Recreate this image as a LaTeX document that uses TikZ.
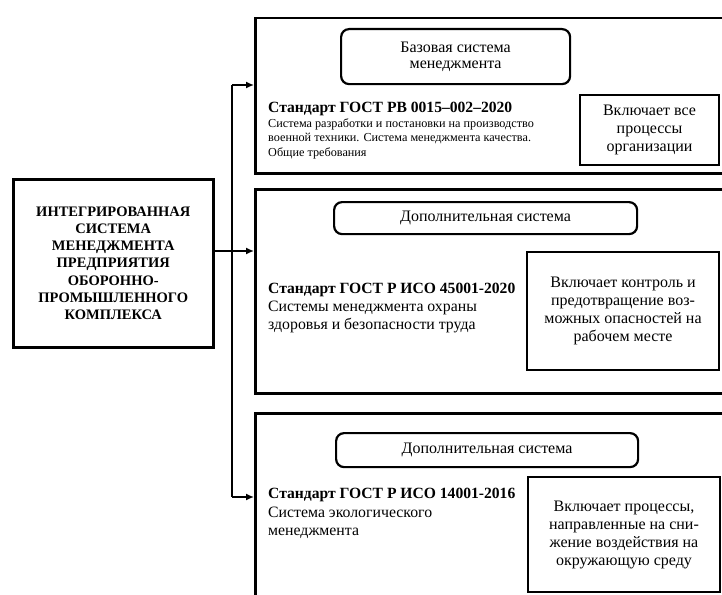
\documentclass[tikz,border=0pt]{standalone}
\usepackage{fontspec}
\setmainfont{Liberation Serif}
\usetikzlibrary{arrows.meta}

\begin{document}
\begin{tikzpicture}[x=1pt, y=-1pt,
  frame/.style={draw, line width=2.5pt, anchor=north west, inner sep=0pt},
  kindbox/.style={draw, line width=2.2pt, rounded corners=8pt, anchor=north west,
    align=center, inner sep=0pt, font=\fontsize{16}{16.5}\selectfont},
  notebox/.style={draw, line width=2pt, anchor=north west, align=center,
    inner sep=0pt, font=\fontsize{16}{18}\selectfont},
  stdtitle/.style={anchor=base west, inner sep=0pt, font=\fontsize{15.6}{17}\selectfont\bfseries},
  stdtext/.style={anchor=base west, align=left, inner sep=0pt, font=\fontsize{15.8}{17.5}\selectfont},
  stdsmall/.style={anchor=base west, align=left, inner sep=0pt, font=\fontsize{12.2}{14.5}\selectfont},
  link/.style={line width=1.5pt, -{Latex[length=8pt,width=7pt]}}
]
  % Page area, in pixels of the reference (y grows downwards)
  \clip (0,0) rectangle (722,594);

  % Main block on the left
  \node[frame, minimum width=200pt, minimum height=168pt, align=center,
    font=\fontsize{14.5}{17.2}\selectfont\bfseries] (isu) at (12,178)
    {ИНТЕГРИРОВАННАЯ\\СИСТЕМА\\МЕНЕДЖМЕНТА\\ПРЕДПРИЯТИЯ\\ОБОРОННО-\\ПРОМЫШЛЕННОГО\\КОМПЛЕКСА};

  % Three standards, each in its own frame (cut by the page edge)
  \node[frame, minimum width=476pt, minimum height=155pt] (sys1) at (254,17) {};
  \node[frame, minimum width=476pt, minimum height=204pt] (sys2) at (254,188) {};
  \node[frame, minimum width=476pt, minimum height=190pt] (sys3) at (254,412) {};

  % Base system
  % (text blocks sit on the baseline of their last line)
  \node[kindbox, minimum width=229pt, minimum height=55pt] (kind1) at (340,28)
    {Базовая система\\менеджмента};
  \node[stdtitle] (std1) at (268,112) {Стандарт ГОСТ РВ 0015–002–2020};
  \node[stdsmall] (txt1) at (268,156)
    {Система разработки и постановки на производство\\военной техники. Система менеджмента качества.\\Общие требования};
  \node[notebox, minimum width=139pt, minimum height=70pt] (inc1) at (579,94)
    {Включает все\\процессы\\организации};

  % First additional system
  \node[kindbox, minimum width=303pt, minimum height=32pt] (kind2) at (333,201)
    {Дополнительная система};
  \node[stdtitle] (std2) at (268,293) {Стандарт ГОСТ Р ИСО 45001-2020};
  \node[stdtext] (txt2) at (268,329)
    {Системы менеджмента охраны\\здоровья и безопасности труда};
  \node[notebox, minimum width=192pt, minimum height=118pt] (inc2) at (526,251)
    {Включает контроль и\\предотвращение воз-\\можных опасностей на\\рабочем месте};

  % Second additional system
  \node[kindbox, minimum width=302pt, minimum height=34pt] (kind3) at (335,432)
    {Дополнительная система};
  \node[stdtitle] (std3) at (268,498) {Стандарт ГОСТ Р ИСО 14001-2016};
  \node[stdtext] (txt3) at (268,535)
    {Система экологического\\менеджмента};
  \node[notebox, minimum width=192pt, minimum height=115pt] (inc3) at (527,476)
    {Включает процессы,\\направленные на сни-\\жение воздействия на\\окружающую среду};

  % Connectors: one trunk, three arrows
  \coordinate (forktop) at (232,85);
  \coordinate (forkbot) at (232,497);
  \coordinate (isuout) at (isu.east |- 0,251);
  \draw[line width=1.5pt] (forktop) -- (forkbot);
  \draw[link] (forktop) -- (forktop -| sys1.west);
  \draw[link] (isuout) -- (isuout -| sys2.west);
  \draw[link] (forkbot) -- (forkbot -| sys3.west);

\end{tikzpicture}
\end{document}
